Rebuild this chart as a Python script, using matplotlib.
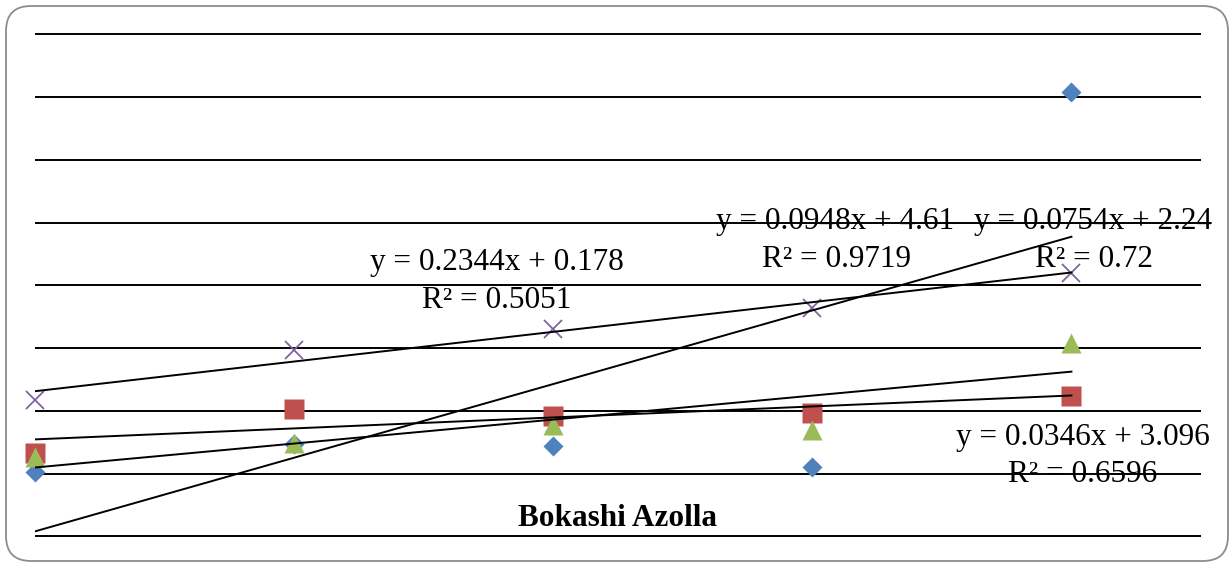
import numpy as np
import matplotlib
matplotlib.use("Agg")
import matplotlib.pyplot as plt
from matplotlib.patches import FancyBboxPatch

# data (y in gridline units)
x = [1, 2, 3, 4, 5]
blue = [1.03, 1.47, 1.44, 1.11, 7.08]     # diamonds
red = [1.33, 2.03, 1.91, 1.96, 2.24]      # squares
green = [1.27, 1.49, 1.77, 1.69, 3.08]    # triangles
purple = [2.17, 2.97, 3.31, 3.64, 4.20]   # crosses

labels = [
    ("y = 0.2344x + 0.178", "R\u00b2 = 0.5051"),
    ("y = 0.0948x + 4.61", "R\u00b2 = 0.9719"),
    ("y = 0.0754x + 2.24", "R\u00b2 = 0.72"),
    ("y = 0.0346x + 3.096", "R\u00b2 = 0.6596"),
]
title = "Bokashi Azolla"

W, H = 1231, 563
fig = plt.figure(figsize=(W / 100, H / 100), dpi=100)

# rounded chart frame
frame = FancyBboxPatch((0.06, 0.02), 12.22, 5.55, boxstyle="round,pad=0,rounding_size=0.25",
                       transform=fig.dpi_scale_trans, facecolor="white",
                       edgecolor="#8c8c8c", linewidth=1.3, zorder=-1)
fig.patches.append(frame)

# plot area: x 1..5.5 spans px 35..1201, y -0.05..8.05 spans px 539.4..31.2
ax = fig.add_axes([35 / W, (H - 539.4) / H, 1166 / W, (539.4 - 31.2) / H])
ax.set_xlim(1, 5.5)
ax.set_ylim(-0.05, 8.05)
ax.patch.set_alpha(0)
for s in ax.spines.values():
    s.set_visible(False)
ax.set_yticks(range(9))
ax.set_xticks([])
ax.tick_params(left=False, labelleft=False)
ax.yaxis.grid(True, color="black", linewidth=1.4)
ax.set_axisbelow(True)

series = [
    (blue, "D", "#4F81BD", 10.5),
    (red, "s", "#C0504D", 14.2),
    (green, "^", "#9BBB59", 14.2),
    (purple, "x", "#8064A2", 13),
]
for vals, m, c, ms in series:
    if m == "x":
        ax.plot(x, vals, ls="none", marker=m, ms=ms, color=c, mew=1.3, clip_on=False, zorder=3)
    else:
        ax.plot(x, vals, ls="none", marker=m, ms=ms, color=c, mec="none", clip_on=False, zorder=3)

# linear trendlines
xx = np.array([x[0], x[-1]])
for vals, m, c, ms in series:
    k, b = np.polyfit(x, vals, 1)
    ax.plot(xx, k * xx + b, color="black", lw=1.4, zorder=4)

# trendline labels (pixel positions of line centres / baselines)
pos = [(497, 270, 497, 307.5), (835, 229.3, 836.5, 266.7),
       (1093.5, 229.3, 1094, 266.7), (1082.5, 445, 1082.5, 481.7)]
for (l1, l2), (x1, y1, x2, y2) in zip(labels, pos):
    fig.text(x1 / W, 1 - y1 / H, l1, ha="center", va="baseline",
             family="Liberation Serif", fontsize=22.5, zorder=5)
    fig.text(x2 / W, 1 - y2 / H, l2, ha="center", va="baseline",
             family="Liberation Serif", fontsize=22.5, zorder=5)

fig.text(618 / W, 1 - 526 / H, title, ha="center", va="baseline",
         family="Liberation Serif", fontweight="bold", fontsize=22.5)

fig.savefig("out.png", dpi=100)
